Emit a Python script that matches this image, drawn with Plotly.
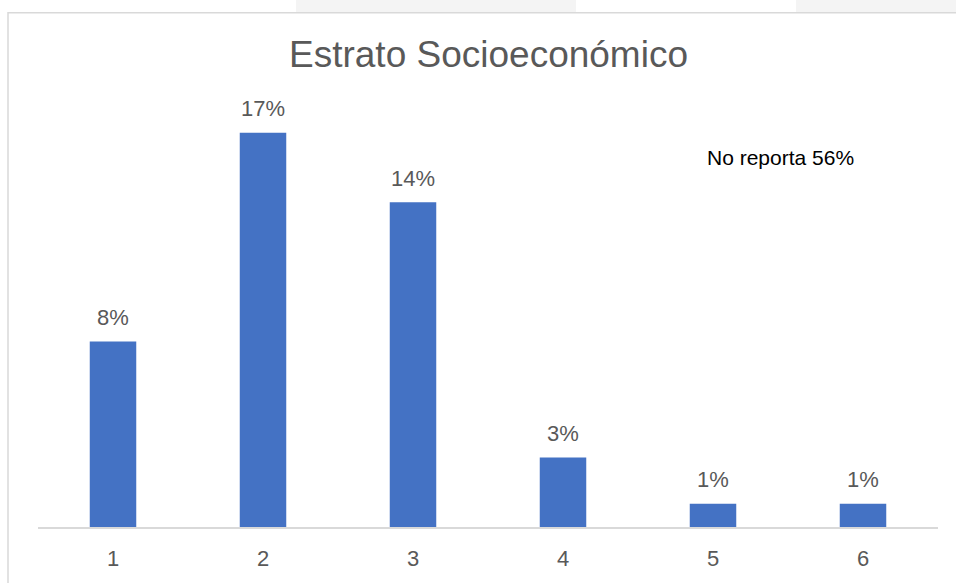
import plotly.graph_objects as go

categories = ["1", "2", "3", "4", "5", "6"]
values = [8, 17, 14, 3, 1, 1]
labels = ["8%", "17%", "14%", "3%", "1%", "1%"]
title_text = "Estrato Socioeconómico"
note_text = "No reporta 56%"

W, H = 956, 583
L, R, T, B = 38, 18, 85, 52
pw, ph = W - L - R, H - T - B

def px_x(p):
    return (p - L) / pw

def px_y(p):
    return (H - B - p) / ph

fig = go.Figure()
fig.add_trace(go.Bar(x=categories, y=values, marker=dict(color="#4472C4", line=dict(width=0)),
                     width=0.31, hoverinfo="skip"))

annotations = []
for i, (v, t) in enumerate(zip(values, labels)):
    annotations.append(dict(x=i, y=v, xref="x", yref="y", text=t, showarrow=False,
                            yanchor="middle", yshift=24,
                            font=dict(family="Liberation Sans, Arial", size=22, color="#595959")))
annotations.append(dict(x=px_x(780), y=px_y(158), xref="paper", yref="paper", text=note_text,
                        showarrow=False, xanchor="center", yanchor="middle",
                        font=dict(family="Liberation Sans, Arial", size=21, color="#000000")))
annotations.append(dict(x=0.5, y=px_y(54), xref="paper", yref="paper", text=title_text,
                        showarrow=False, xanchor="center", yanchor="middle",
                        font=dict(family="Liberation Sans, Arial", size=37, color="#595959")))

shapes = [
    dict(type="rect", xref="paper", yref="paper", x0=px_x(296), x1=px_x(576), y0=px_y(12), y1=px_y(-2),
         fillcolor="#f4f4f4", line=dict(width=0), layer="below"),
    dict(type="rect", xref="paper", yref="paper", x0=px_x(796), x1=px_x(970), y0=px_y(12), y1=px_y(-2),
         fillcolor="#f4f4f4", line=dict(width=0), layer="below"),
    dict(type="rect", xref="paper", yref="paper", x0=px_x(8), x1=px_x(975), y0=px_y(600), y1=px_y(12),
         fillcolor="rgba(0,0,0,0)", line=dict(color="#d9d9d9", width=1.5), layer="below"),
]

fig.update_layout(
    width=W, height=H,
    margin=dict(l=L, r=R, t=T, b=B),
    paper_bgcolor="white", plot_bgcolor="white",
    showlegend=False,
    annotations=annotations,
    shapes=shapes,
    xaxis=dict(type="category", showgrid=False, showline=True, linecolor="#d9d9d9", linewidth=1.5,
               ticks="", tickfont=dict(family="Liberation Sans, Arial", size=22, color="#595959"),
               ticklabelstandoff=11),
    yaxis=dict(range=[0, ph / 23.4], visible=False, showgrid=False, zeroline=False),
)

fig.write_html("out.html", config={"displayModeBar": False},
               post_script="document.body.style.margin='0';document.body.style.overflow='hidden';")
